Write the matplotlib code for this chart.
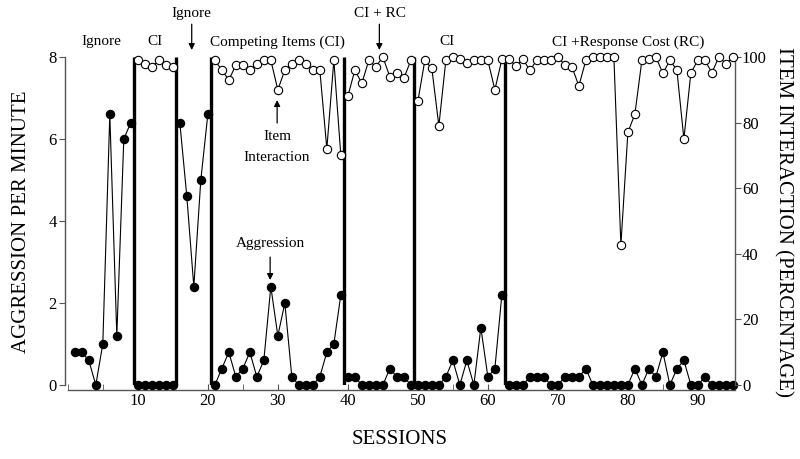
import numpy as np
import matplotlib
matplotlib.use("Agg")
import matplotlib.pyplot as plt
from matplotlib.ticker import MultipleLocator

plt.rcParams['font.family'] = ['Liberation Serif', 'DejaVu Serif']

# ---- data ----
sessions = np.arange(1, 96)
phase_sizes = [9, 6, 5, 19, 10, 13, 33]
phase_breaks = [9.5, 15.5, 20.5, 39.5, 49.5, 62.5]
phase_labels = ["Ignore", "CI", "Ignore", "Competing Items (CI)", "CI + RC", "CI", "CI +Response Cost (RC)"]

aggression = [
    0.8, 0.8, 0.6, 0, 1.0, 6.6, 1.2, 6.0, 6.4,
    0, 0, 0, 0, 0, 0,
    6.4, 4.6, 2.4, 5.0, 6.6,
    0, 0.4, 0.8, 0.2, 0.4, 0.8, 0.2, 0.6, 2.4, 1.2, 2.0, 0.2, 0, 0, 0, 0.2, 0.8, 1.0, 2.2,
    0.2, 0.2, 0, 0, 0, 0, 0.4, 0.2, 0.2, 0,
    0, 0, 0, 0, 0.2, 0.6, 0, 0.6, 0, 1.4, 0.2, 0.4, 2.2,
    0, 0, 0, 0.2, 0.2, 0.2, 0, 0, 0.2, 0.2, 0.2, 0.4, 0, 0, 0, 0, 0, 0, 0.4, 0, 0.4,
    0.2, 0.8, 0, 0.4, 0.6, 0, 0, 0.2, 0, 0, 0, 0,
]

nan = np.nan
interaction = [
    nan, nan, nan, nan, nan, nan, nan, nan, nan,
    99, 98, 97, 99, 97.5, 97,
    nan, nan, nan, nan, nan,
    99, 96, 93, 97.5, 97.5, 96, 98, 99, 99, 90, 96, 98, 99, 98, 96, 96, 72, 99, 70,
    88, 96, 92, 99, 97, 100, 94, 95, 93.5, 99,
    86.5, 99, 96.5, 79, 99, 100, 99.3, 98.3, 99, 99, 99, 90, 99.3,
    99.3, 97.3, 99.3, 96, 99, 99, 99, 100, 97.6, 97, 91.2, 99, 100, 100, 100, 100, 42.7,
    77, 82.6, 99, 99.3, 100, 95, 99, 96, 75, 95.2, 99, 99, 95.2, 100, 98, 100,
]

aggression = np.array(aggression, dtype=float)
interaction = np.array(interaction, dtype=float)

# ---- figure ----
fig = plt.figure(figsize=(8, 4.59), dpi=100)
W, H = 800, 459
x0, x1, ytop, ybot = 65, 735, 57, 385
ax = fig.add_axes([x0 / W, (H - ybot) / H, (x1 - x0) / W, (ybot - ytop) / H])
ax2 = ax.twinx()

ax.set_xlim(-0.4, 95.3)
ax.set_ylim(0, 8)
ax2.set_ylim(0, 100)

spine_col = '#555555'
for a in (ax, ax2):
    for s in a.spines.values():
        s.set_color(spine_col)
        s.set_linewidth(1.0)
    a.spines['top'].set_visible(False)
ax.spines['right'].set_visible(False)
ax2.spines['left'].set_visible(False)
ax2.spines['bottom'].set_visible(False)
ax.spines['bottom'].set_position(('outward', 3.5))
ax.spines['bottom'].set_bounds(0, 95.3)

# phase lines
for b in phase_breaks:
    ax.plot([b, b], [0, 8], color='black', lw=2.4, zorder=2, solid_capstyle='butt')

# series drawn phase by phase
start = 0
for n in phase_sizes:
    idx = slice(start, start + n)
    ax.plot(sessions[idx], aggression[idx], color='black', lw=0.8, marker='o',
            markersize=5.8, markerfacecolor='black', markeredgecolor='black',
            clip_on=False, zorder=4)
    iv = interaction[idx]
    if not np.all(np.isnan(iv)):
        ax2.plot(sessions[idx], iv, color='black', lw=0.8, marker='o',
                 markersize=6.0, markerfacecolor='white', markeredgecolor='black',
                 markeredgewidth=0.8, clip_on=False, zorder=4)
    start += n

# ticks
ax.xaxis.set_minor_locator(MultipleLocator(5))
ax.set_xticks([10, 20, 30, 40, 50, 60, 70, 80, 90])
ax.tick_params(axis='x', which='both', direction='in', length=4, color=spine_col,
               labelsize=12, pad=2)
ax.set_yticks([0, 2, 4, 6, 8])
ax.tick_params(axis='y', direction='out', length=4, color=spine_col, labelsize=12, pad=2)
ax2.set_yticks([0, 20, 40, 60, 80, 100])
ax2.tick_params(axis='y', direction='out', length=4, color=spine_col, labelsize=12, pad=1)

# axis titles
fig.text(22 / W, 1 - 222 / H, "AGGRESSION PER MINUTE", rotation=90, ha='center', va='center',
         fontsize=15)
fig.text(783 / W, 1 - 222 / H, "ITEM INTERACTION (PERCENTAGE)", rotation=270, ha='center',
         va='center', fontsize=15)
fig.text(400 / W, 1 - 440 / H, "SESSIONS", ha='center', va='center', fontsize=15)

# phase labels
tk = dict(ha='center', va='center', fontsize=11, clip_on=False)
ax.text(4.86, 8.37, phase_labels[0], **tk)
ax.text(12.4, 8.37, phase_labels[1], **tk)
ax.text(17.7, 9.05, phase_labels[2], **tk)
ax.text(30.0, 8.37, phase_labels[3], **tk)
ax.text(44.6, 9.07, phase_labels[4], **tk)
ax.text(54.1, 8.37, phase_labels[5], **tk)
ax.text(80.0, 8.37, phase_labels[6], **tk)
ax.text(29.9, 6.07, "Item", **tk)
ax.text(29.9, 5.56, "Interaction", **tk)
ax.text(29.0, 3.46, "Aggression", **tk)

arr = dict(arrowstyle='-|>', color='black', lw=0.9, mutation_scale=9, shrinkA=0, shrinkB=0)
ax.annotate("", xy=(17.7, 8.17), xytext=(17.7, 8.8), arrowprops=arr, annotation_clip=False)
ax.annotate("", xy=(44.5, 8.17), xytext=(44.5, 8.8), arrowprops=arr, annotation_clip=False)
ax.annotate("", xy=(29.9, 6.95), xytext=(29.9, 6.39), arrowprops=arr, annotation_clip=False)
ax.annotate("", xy=(28.9, 2.56), xytext=(28.9, 3.12), arrowprops=arr, annotation_clip=False)

fig.savefig("out.png", dpi=100)
